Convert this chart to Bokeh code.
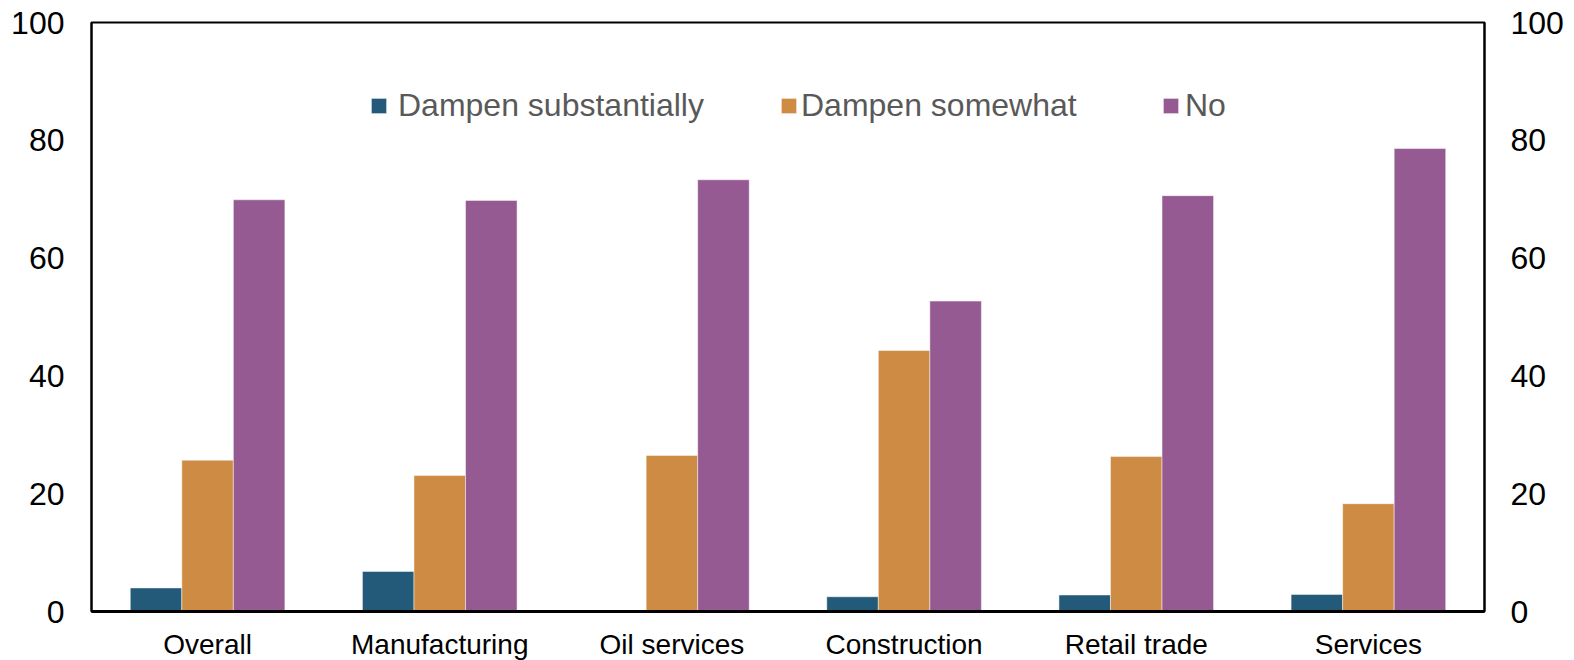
from bokeh.plotting import figure
from bokeh.models import (ColumnDataSource, FactorRange, Range1d, LinearAxis,
                          FixedTicker, Legend, LegendItem)
from bokeh.transform import dodge
from bokeh.embed import file_html
from bokeh.resources import INLINE

categories = ["Overall", "Manufacturing", "Oil services", "Construction",
              "Retail trade", "Services"]
dampen_substantially = [4.0, 6.8, 0.0, 2.5, 2.8, 2.9]
dampen_somewhat = [25.7, 23.1, 26.5, 44.3, 26.3, 18.3]
no_effect = [69.9, 69.8, 73.3, 52.7, 70.6, 78.6]
series_names = ["Dampen substantially", "Dampen somewhat", "No"]
series_colors = ["#235A7A", "#CD8B43", "#965A93"]
y_ticks = [0, 20, 40, 60, 80, 100]

src = ColumnDataSource(dict(cat=categories, s1=dampen_substantially,
                            s2=dampen_somewhat, s3=no_effect))

FONT = "Liberation Sans"
W, H = 1566, 670

p = figure(x_range=FactorRange(*categories, range_padding=0),
           y_range=Range1d(0, 100), width=W, height=H,
           output_backend="svg", toolbar_location=None,
           min_border_left=91, min_border_right=82,
           min_border_top=22, min_border_bottom=59)
p.xgrid.visible = False
p.ygrid.visible = False
p.outline_line_color = "black"
p.outline_line_width = 2
p.background_fill_color = "white"
p.border_fill_color = "white"

bw = 0.222
offsets = [-bw, 0.0, bw]
renderers = []
for key, off, col in zip(["s1", "s2", "s3"], offsets, series_colors):
    r = p.vbar(x=dodge("cat", off, range=p.x_range), top=key, bottom=0,
               width=bw, source=src, fill_color=col, line_color="white",
               line_width=0.8, line_alpha=0.6)
    renderers.append(r)

# left axis
ya = p.yaxis[0]
ya.ticker = FixedTicker(ticks=y_ticks)
ya.major_tick_line_color = None
ya.minor_tick_line_color = None
ya.major_tick_out = 0
ya.axis_line_color = "black"
ya.axis_line_width = 2
ya.major_label_text_font = FONT
ya.major_label_text_font_size = "32px"
ya.major_label_text_color = "black"
ya.major_label_standoff = 27

ra = LinearAxis(ticker=FixedTicker(ticks=y_ticks))
ra.major_tick_line_color = None
ra.minor_tick_line_color = None
ra.major_tick_out = 0
ra.axis_line_color = "black"
ra.axis_line_width = 2
ra.major_label_text_font = FONT
ra.major_label_text_font_size = "32px"
ra.major_label_text_color = "black"
ra.major_label_standoff = 26
p.add_layout(ra, "right")

xa = p.xaxis[0]
xa.major_tick_line_color = None
xa.minor_tick_line_color = None
xa.major_tick_out = 0
xa.axis_line_color = "black"
xa.axis_line_width = 3
xa.major_label_text_font = FONT
xa.major_label_text_font_size = "28px"
xa.major_label_text_color = "black"
xa.major_label_standoff = 17

leg_x = [278, 688, 1070]
leg_standoff = [10, 3, 5]
for name, r, lx, so in zip(series_names, renderers, leg_x, leg_standoff):
    leg = Legend(items=[LegendItem(label=name, renderers=[r])],
                 location=(lx, 487), orientation="horizontal",
                 padding=0, margin=0, spacing=0,
                 border_line_color=None, background_fill_alpha=0,
                 glyph_width=19, glyph_height=19, label_standoff=so,
                 label_text_font=FONT, label_text_font_size="32px",
                 label_text_color="#595959")
    p.add_layout(leg)

html = file_html(p, INLINE)
html = html.replace("</head>", "<style>html,body{overflow:hidden}</style></head>", 1)
open("out.html", "w").write(html)
